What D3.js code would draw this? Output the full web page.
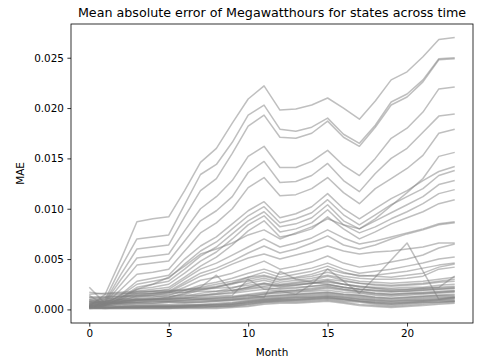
<!DOCTYPE html>
<html>
<head>
<meta charset="utf-8">
<script src="https://cdn.jsdelivr.net/npm/d3@7"></script>
<style>
  html, body { margin: 0; padding: 0; background: #fff; }
  svg { display: block; font-family: "DejaVu Sans", sans-serif; }
</style>
</head>
<body>
<svg id="chart" width="482" height="360"></svg>
<script>
const months = d3.range(0, 24);
const xTicks = [0, 5, 10, 15, 20];
const yTicks = [0.000, 0.005, 0.010, 0.015, 0.020, 0.025];

// upper group
const s01 = [0.0003,0.0015,0.0050,0.0087,0.0090,0.0092,0.0118,0.0146,0.0160,0.0185,0.0209,0.0222,0.0198,0.0199,0.0203,0.0210,0.0200,0.0189,0.0207,0.0228,0.0236,0.0251,0.0268,0.0270];
const s02 = [0.0004,0.0010,0.0042,0.0070,0.0072,0.0074,0.0104,0.0134,0.0144,0.0166,0.0193,0.0203,0.0179,0.0177,0.0181,0.0190,0.0174,0.0165,0.0183,0.0206,0.0214,0.0228,0.0249,0.0250];
const s03 = [0.0002,0.0008,0.0035,0.0060,0.0062,0.0064,0.0092,0.0118,0.0130,0.0155,0.0182,0.0193,0.0171,0.0170,0.0175,0.0187,0.0171,0.0162,0.0181,0.0203,0.0211,0.0226,0.0248,0.0249];
const s04 = [0.0003,0.0007,0.0030,0.0051,0.0053,0.0055,0.0078,0.0100,0.0112,0.0128,0.0152,0.0162,0.0141,0.0141,0.0147,0.0158,0.0143,0.0133,0.0150,0.0170,0.0180,0.0196,0.0219,0.0221];
const s05 = [0.0002,0.0006,0.0025,0.0044,0.0046,0.0048,0.0068,0.0088,0.0098,0.0112,0.0136,0.0147,0.0126,0.0127,0.0133,0.0145,0.0128,0.0117,0.0135,0.0150,0.0160,0.0176,0.0192,0.0194];
const s06 = [0.0003,0.0005,0.0020,0.0035,0.0037,0.0040,0.0058,0.0076,0.0086,0.0100,0.0121,0.0131,0.0113,0.0114,0.0120,0.0131,0.0116,0.0105,0.0120,0.0130,0.0140,0.0153,0.0175,0.0179];
// middle group
const s07 = [0.0002,0.0005,0.0015,0.0028,0.0031,0.0034,0.0050,0.0063,0.0072,0.0085,0.0098,0.0107,0.0091,0.0095,0.0102,0.0115,0.0100,0.0090,0.0100,0.0110,0.0118,0.0128,0.0137,0.0142];
const s08 = [0.0004,0.0006,0.0014,0.0025,0.0028,0.0031,0.0045,0.0058,0.0067,0.0080,0.0093,0.0102,0.0086,0.0090,0.0096,0.0109,0.0094,0.0084,0.0094,0.0104,0.0112,0.0120,0.0133,0.0138];
const s09 = [0.0002,0.0004,0.0012,0.0022,0.0025,0.0028,0.0040,0.0053,0.0062,0.0075,0.0088,0.0097,0.0082,0.0085,0.0091,0.0104,0.0088,0.0080,0.0088,0.0096,0.0104,0.0112,0.0124,0.0128];
const s10 = [0.0003,0.0005,0.0011,0.0020,0.0022,0.0025,0.0036,0.0048,0.0057,0.0070,0.0084,0.0093,0.0077,0.0080,0.0086,0.0099,0.0084,0.0076,0.0082,0.0090,0.0097,0.0105,0.0115,0.0119];
const s11 = [0.0002,0.0004,0.0010,0.0018,0.0020,0.0022,0.0032,0.0043,0.0052,0.0064,0.0078,0.0088,0.0072,0.0075,0.0080,0.0092,0.0080,0.0070,0.0077,0.0085,0.0091,0.0097,0.0105,0.0109];
const s12 = [0.0005,0.0008,0.0012,0.0020,0.0025,0.0032,0.0043,0.0055,0.0060,0.0066,0.0074,0.0079,0.0070,0.0076,0.0082,0.0090,0.0084,0.0080,0.0090,0.0103,0.0116,0.0130,0.0152,0.0156];
const s13 = [0.0004,0.0006,0.0010,0.0016,0.0018,0.0020,0.0030,0.0040,0.0046,0.0054,0.0062,0.0070,0.0062,0.0066,0.0071,0.0079,0.0071,0.0065,0.0068,0.0072,0.0076,0.0080,0.0085,0.0087];
const s14 = [0.0003,0.0005,0.0009,0.0014,0.0016,0.0018,0.0027,0.0036,0.0041,0.0048,0.0056,0.0063,0.0056,0.0060,0.0066,0.0073,0.0064,0.0060,0.0064,0.0070,0.0075,0.0079,0.0084,0.0086];
const s15 = [0.0002,0.0004,0.0008,0.0013,0.0015,0.0017,0.0025,0.0033,0.0038,0.0045,0.0051,0.0055,0.0050,0.0054,0.0058,0.0063,0.0058,0.0055,0.0057,0.0058,0.0060,0.0062,0.0066,0.0066];
const s16 = [0.0006,0.0008,0.0010,0.0012,0.0014,0.0016,0.0022,0.0029,0.0032,0.0036,0.0042,0.0048,0.0040,0.0043,0.0047,0.0053,0.0046,0.0042,0.0044,0.0047,0.0050,0.0054,0.0061,0.0065];
const s17 = [0.0003,0.0004,0.0007,0.0011,0.0012,0.0014,0.0019,0.0024,0.0027,0.0031,0.0036,0.0040,0.0035,0.0038,0.0041,0.0046,0.0040,0.0036,0.0038,0.0040,0.0043,0.0046,0.0050,0.0052];
const s18 = [0.0002,0.0003,0.0006,0.0009,0.0010,0.0012,0.0015,0.0019,0.0022,0.0026,0.0032,0.0037,0.0032,0.0035,0.0038,0.0043,0.0037,0.0033,0.0034,0.0036,0.0038,0.0041,0.0044,0.0046];
// lower-middle group
const s19 = [0.0010,0.0012,0.0013,0.0015,0.0016,0.0017,0.0019,0.0022,0.0025,0.0028,0.0032,0.0034,0.0030,0.0032,0.0035,0.0040,0.0036,0.0034,0.0033,0.0032,0.0034,0.0036,0.0042,0.0045];
const s20 = [0.0008,0.0010,0.0012,0.0014,0.0014,0.0015,0.0017,0.0020,0.0022,0.0025,0.0030,0.0033,0.0029,0.0031,0.0033,0.0037,0.0033,0.0031,0.0030,0.0030,0.0031,0.0033,0.0040,0.0042];
const s21 = [0.0012,0.0013,0.0015,0.0017,0.0018,0.0018,0.0020,0.0021,0.0023,0.0026,0.0028,0.0031,0.0027,0.0029,0.0031,0.0034,0.0031,0.0028,0.0027,0.0026,0.0027,0.0028,0.0030,0.0032];
const s22 = [0.0005,0.0006,0.0008,0.0010,0.0011,0.0012,0.0016,0.0022,0.0034,0.0018,0.0022,0.0026,0.0024,0.0026,0.0028,0.0030,0.0028,0.0026,0.0024,0.0023,0.0024,0.0025,0.0027,0.0028];
const s23 = [0.0007,0.0005,0.0006,0.0007,0.0008,0.0008,0.0009,0.0010,0.0011,0.0012,0.0014,0.0012,0.0038,0.0030,0.0027,0.0025,0.0022,0.0020,0.0019,0.0018,0.0019,0.0020,0.0021,0.0022];
const s24 = [0.0004,0.0005,0.0007,0.0009,0.0010,0.0011,0.0013,0.0016,0.0018,0.0021,0.0026,0.0029,0.0025,0.0027,0.0029,0.0033,0.0029,0.0026,0.0025,0.0024,0.0025,0.0026,0.0028,0.0030];
const s25 = [0.0015,0.0016,0.0017,0.0018,0.0018,0.0019,0.0019,0.0020,0.0021,0.0022,0.0024,0.0026,0.0023,0.0024,0.0026,0.0028,0.0025,0.0023,0.0022,0.0021,0.0022,0.0022,0.0024,0.0025];
const s26 = [0.0006,0.0007,0.0008,0.0010,0.0010,0.0011,0.0012,0.0014,0.0016,0.0019,0.0022,0.0025,0.0022,0.0024,0.0026,0.0029,0.0025,0.0022,0.0021,0.0019,0.0020,0.0021,0.0022,0.0033];
const s27 = [0.0022,0.0006,0.0007,0.0008,0.0009,0.0010,0.0011,0.0013,0.0015,0.0017,0.0020,0.0022,0.0020,0.0021,0.0023,0.0025,0.0022,0.0020,0.0019,0.0018,0.0018,0.0019,0.0020,0.0021];
const s28 = [0.0010,0.0009,0.0009,0.0009,0.0010,0.0010,0.0011,0.0012,0.0013,0.0014,0.0030,0.0020,0.0018,0.0019,0.0021,0.0023,0.0020,0.0018,0.0016,0.0015,0.0016,0.0017,0.0018,0.0019];
const s29 = [0.0008,0.0006,0.0006,0.0007,0.0008,0.0008,0.0009,0.0010,0.0010,0.0011,0.0013,0.0015,0.0018,0.0015,0.0025,0.0040,0.0028,0.0016,0.0032,0.0049,0.0066,0.0038,0.0010,0.0012];
// low group
const s30 = [0.0001,0.0001,0.0002,0.0002,0.0002,0.0002,0.0002,0.0003,0.0003,0.0004,0.0005,0.0007,0.0008,0.0009,0.0010,0.0011,0.0009,0.0008,0.0006,0.0005,0.0006,0.0007,0.0008,0.0008];
const s31 = [0.0002,0.0002,0.0003,0.0003,0.0003,0.0003,0.0003,0.0004,0.0004,0.0005,0.0007,0.0009,0.0010,0.0011,0.0012,0.0013,0.0011,0.0010,0.0008,0.0007,0.0008,0.0009,0.0010,0.0011];
const s32 = [0.0003,0.0003,0.0003,0.0004,0.0004,0.0004,0.0005,0.0005,0.0006,0.0007,0.0009,0.0011,0.0012,0.0013,0.0014,0.0015,0.0013,0.0012,0.0010,0.0009,0.0010,0.0011,0.0012,0.0012];
const s33 = [0.0001,0.0001,0.0001,0.0001,0.0001,0.0001,0.0002,0.0002,0.0002,0.0003,0.0004,0.0006,0.0007,0.0007,0.0008,0.0009,0.0007,0.0005,0.0004,0.0003,0.0004,0.0005,0.0006,0.0007];
const s34 = [0.0004,0.0004,0.0004,0.0005,0.0005,0.0005,0.0006,0.0007,0.0008,0.0009,0.0011,0.0013,0.0014,0.0015,0.0016,0.0017,0.0015,0.0014,0.0012,0.0011,0.0012,0.0013,0.0014,0.0015];
const s35 = [0.0005,0.0005,0.0005,0.0006,0.0006,0.0007,0.0007,0.0008,0.0009,0.0010,0.0012,0.0015,0.0016,0.0017,0.0018,0.0019,0.0017,0.0016,0.0014,0.0013,0.0014,0.0015,0.0016,0.0017];
const s36 = [0.0008,0.0008,0.0008,0.0009,0.0009,0.0009,0.0010,0.0010,0.0011,0.0012,0.0014,0.0016,0.0017,0.0018,0.0019,0.0021,0.0019,0.0017,0.0015,0.0014,0.0015,0.0016,0.0017,0.0018];
const s37 = [0.0002,0.0001,0.0001,0.0001,0.0001,0.0001,0.0001,0.0001,0.0001,0.0002,0.0003,0.0005,0.0006,0.0006,0.0007,0.0008,0.0006,0.0004,0.0003,0.0002,0.0003,0.0004,0.0005,0.0006];
const s38 = [0.0003,0.0002,0.0002,0.0002,0.0002,0.0002,0.0003,0.0003,0.0003,0.0004,0.0006,0.0008,0.0009,0.0010,0.0011,0.0012,0.0010,0.0008,0.0007,0.0006,0.0007,0.0008,0.0009,0.0010];
const s39 = [0.0012,0.0011,0.0010,0.0010,0.0010,0.0010,0.0011,0.0011,0.0012,0.0013,0.0015,0.0017,0.0018,0.0019,0.0020,0.0022,0.0020,0.0018,0.0016,0.0015,0.0016,0.0016,0.0017,0.0018];
const s40 = [0.0006,0.0006,0.0006,0.0006,0.0006,0.0007,0.0007,0.0007,0.0008,0.0009,0.0010,0.0012,0.0013,0.0014,0.0015,0.0016,0.0014,0.0013,0.0011,0.0010,0.0011,0.0012,0.0013,0.0013];
const s41 = [0.0009,0.0007,0.0005,0.0004,0.0004,0.0004,0.0004,0.0005,0.0005,0.0006,0.0008,0.0010,0.0011,0.0012,0.0012,0.0013,0.0012,0.0010,0.0009,0.0008,0.0009,0.0010,0.0011,0.0012];
const s42 = [0.0002,0.0002,0.0002,0.0003,0.0003,0.0003,0.0004,0.0004,0.0005,0.0006,0.0008,0.0010,0.0011,0.0012,0.0013,0.0014,0.0012,0.0011,0.0009,0.0008,0.0009,0.0009,0.0010,0.0011];
const s43 = [0.0017,0.0015,0.0016,0.0016,0.0016,0.0017,0.0017,0.0018,0.0018,0.0019,0.0021,0.0023,0.0024,0.0025,0.0026,0.0027,0.0025,0.0023,0.0021,0.0020,0.0020,0.0021,0.0022,0.0023];
const s44 = [0.0001,0.0002,0.0002,0.0002,0.0003,0.0003,0.0003,0.0004,0.0004,0.0005,0.0006,0.0008,0.0009,0.0009,0.0010,0.0011,0.0010,0.0009,0.0007,0.0006,0.0007,0.0008,0.0009,0.0009];
const s45 = [0.0014,0.0004,0.0003,0.0003,0.0003,0.0003,0.0004,0.0004,0.0005,0.0005,0.0007,0.0009,0.0010,0.0010,0.0011,0.0012,0.0010,0.0008,0.0006,0.0005,0.0006,0.0007,0.0007,0.0008];
const s46 = [0.0005,0.0012,0.0013,0.0013,0.0013,0.0013,0.0014,0.0014,0.0015,0.0016,0.0018,0.0020,0.0021,0.0022,0.0023,0.0024,0.0022,0.0020,0.0018,0.0017,0.0018,0.0019,0.0020,0.0021];
const s47 = [0.0002,0.0002,0.0002,0.0002,0.0002,0.0002,0.0002,0.0002,0.0003,0.0003,0.0005,0.0007,0.0008,0.0008,0.0009,0.0010,0.0008,0.0007,0.0005,0.0004,0.0005,0.0006,0.0007,0.0008];
const s48 = [0.0007,0.0007,0.0007,0.0007,0.0007,0.0008,0.0008,0.0009,0.0009,0.0010,0.0011,0.0013,0.0014,0.0015,0.0016,0.0017,0.0015,0.0014,0.0012,0.0011,0.0012,0.0013,0.0014,0.0014];

const seriesList = [s01,s02,s03,s04,s05,s06,s07,s08,s09,s10,s11,s12,s13,s14,s15,s16,s17,s18,s19,s20,s21,s22,s23,s24,s25,s26,s27,s28,s29,s30,s31,s32,s33,s34,s35,s36,s37,s38,s39,s40,s41,s42,s43,s44,s45,s46,s47,s48];

const W = 482, H = 360;
const m = {left: 71, right: 9, top: 24, bottom: 37};
const svg = d3.select("#chart");

const x = d3.scaleLinear().domain([-1.15, 24.15]).range([m.left, W - m.right]);
const y = d3.scaleLinear().domain([-0.00135, 0.02835]).range([H - m.bottom, m.top]);

const line = d3.line().x((d, i) => x(months[i])).y(d => y(d));

const g = svg.append("g");
g.selectAll("path.series")
  .data(seriesList)
  .join("path")
  .attr("class", "series")
  .attr("d", d => line(d))
  .attr("fill", "none")
  .attr("stroke", "#808080")
  .attr("stroke-opacity", 0.5)
  .attr("stroke-width", 1.5)
  .attr("stroke-linejoin", "round");

// axes
const xAxis = d3.axisBottom(x).tickValues(xTicks).tickSize(3.6).tickPadding(3.5).tickFormat(d3.format("d"));
const yAxis = d3.axisLeft(y).tickValues(yTicks).tickSize(3.6).tickPadding(3.5).tickFormat(d3.format(".3f"));

const gx = svg.append("g").attr("transform", `translate(0,${H - m.bottom})`).call(xAxis);
const gy = svg.append("g").attr("transform", `translate(${m.left},0)`).call(yAxis);
[gx, gy].forEach(a => {
  a.select(".domain").remove();
  a.selectAll("line").attr("stroke", "#000").attr("stroke-width", 0.8);
  a.selectAll("text").attr("fill", "#000").style("font-size", "10.4px").style("font-family", "DejaVu Sans");
});

// frame
svg.append("rect")
  .attr("x", m.left).attr("y", m.top)
  .attr("width", W - m.left - m.right).attr("height", H - m.top - m.bottom)
  .attr("fill", "none").attr("stroke", "#000").attr("stroke-width", 0.8);

// title & labels
svg.append("text")
  .attr("x", (m.left + W - m.right) / 2).attr("y", 17)
  .attr("text-anchor", "middle")
  .style("font-size", "12.7px")
  .text("Mean absolute error of Megawatthours for states across time");

svg.append("text")
  .attr("x", (m.left + W - m.right) / 2).attr("y", 356)
  .attr("text-anchor", "middle")
  .style("font-size", "10.4px")
  .text("Month");

svg.append("text")
  .attr("transform", `translate(24,${(m.top + H - m.bottom) / 2}) rotate(-90)`)
  .attr("text-anchor", "middle")
  .style("font-size", "10.4px")
  .text("MAE");
</script>
</body>
</html>
